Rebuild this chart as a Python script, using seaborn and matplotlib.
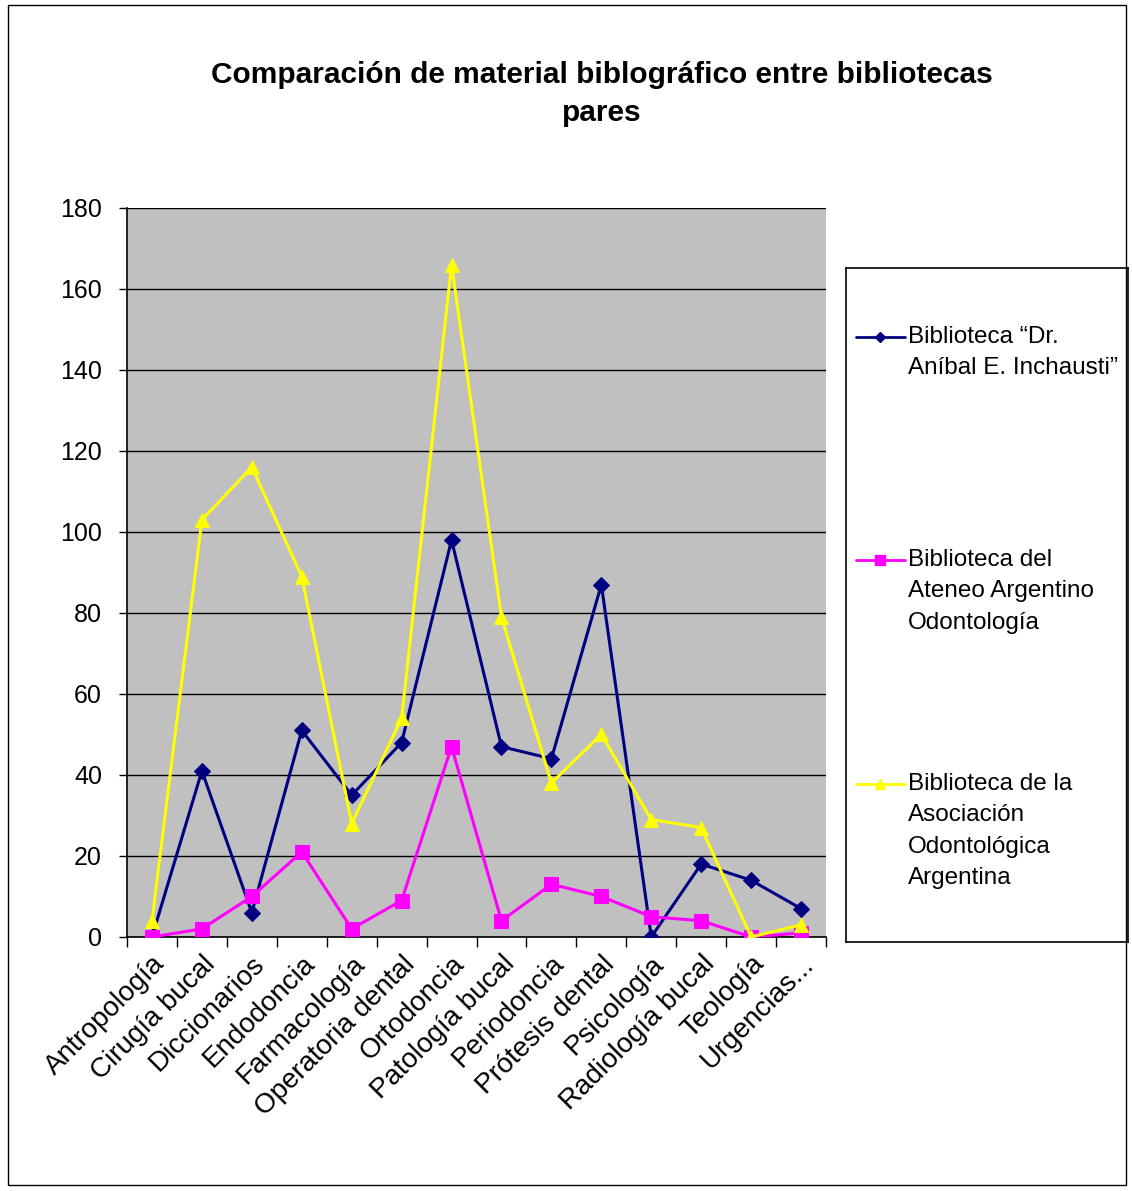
import pandas as pd
import seaborn as sns
import matplotlib.pyplot as plt
from matplotlib.patches import Rectangle
from matplotlib.lines import Line2D

categories = ['Antropología', 'Cirugía bucal', 'Diccionarios', 'Endodoncia',
              'Farmacología', 'Operatoria dental', 'Ortodoncia', 'Patología bucal',
              'Periodoncia', 'Prótesis dental', 'Psicología', 'Radiología bucal',
              'Teología', 'Urgencias...']

inchausti = [0, 41, 6, 51, 35, 48, 98, 47, 44, 87, 0, 18, 14, 7]
ateneo = [0, 2, 10, 21, 2, 9, 47, 4, 13, 10, 5, 4, 0, 1]
asociacion = [4, 103, 116, 89, 28, 54, 166, 79, 38, 50, 29, 27, 0, 3]

series_names = ['Biblioteca \u201cDr.\nAníbal E. Inchausti\u201d',
                'Biblioteca del\nAteneo Argentino\nOdontología',
                'Biblioteca de la\nAsociación\nOdontológica\nArgentina']
colors = ['#000080', '#FF00FF', '#FFFF00']
markers = ['D', 's', '^']
msizes = [8, 10, 10]

rows = []
for name, vals in zip(series_names, [inchausti, ateneo, asociacion]):
    for i, v in enumerate(vals):
        rows.append({'pos': i, 'valor': v, 'serie': name})
df = pd.DataFrame(rows)

sns.set_style('white')
plt.rcParams['font.family'] = ['Liberation Sans', 'DejaVu Sans']
plt.rcParams['text.color'] = 'black'
plt.rcParams['xtick.color'] = 'black'
plt.rcParams['ytick.color'] = 'black'

fig = plt.figure(figsize=(11.32, 11.91), dpi=100)
ax = fig.add_axes([0.1122, 0.2133, 0.6175, 0.6121])
ax.set_facecolor('#C0C0C0')

for name, c, m, ms in zip(series_names, colors, markers, msizes):
    sns.lineplot(data=df[df['serie'] == name], x='pos', y='valor', color=c,
                 marker=m, markersize=ms, markeredgecolor=c, linewidth=2.2,
                 ax=ax, legend=False, zorder=3)

ax.set_xlim(-0.5, len(categories) - 0.5)
ax.set_ylim(0, 180)
ax.set_yticks(range(0, 181, 20))
ax.yaxis.grid(True, color='black', linewidth=1)
ax.set_axisbelow(True)
ax.set_xticks(range(len(categories)))
ax.set_xticklabels(categories, rotation=45, ha='right', rotation_mode='anchor',
                   fontsize=20)
ax.set_xticks([i - 0.5 for i in range(len(categories) + 1)], minor=True)
ax.tick_params(axis='x', which='major', length=0, pad=10)
ax.tick_params(axis='x', which='minor', length=7, width=1, direction='out',
               color='black', bottom=True)
ax.tick_params(axis='y', length=6, width=1, direction='out', color='black',
               left=True, labelsize=18, pad=12)
ax.set_xlabel('')
ax.set_ylabel('')
for s in ['top', 'right']:
    ax.spines[s].set_visible(False)
for s in ['left', 'bottom']:
    ax.spines[s].set_color('black')
    ax.spines[s].set_linewidth(1.2)

fig.text(0.532, 0.921, 'Comparación de material biblográfico entre bibliotecas\npares',
         ha='center', va='center', fontsize=21.5, fontweight='bold',
         linespacing=1.45)

# legend box
lax = fig.add_axes([846 / 1132, 1 - 942 / 1191, 282 / 1132, 674 / 1191])
lax.set_xlim(846, 1128)
lax.set_ylim(942, 268)
lax.set_xticks([])
lax.set_yticks([])
for s in lax.spines.values():
    s.set_color('black')
    s.set_linewidth(1.2)
for name, c, m, ms, y in zip(series_names, colors, markers, msizes, [337, 560, 784]):
    lax.add_line(Line2D([856, 905], [y, y], color=c, linewidth=2))
    lax.plot([880], [y], marker=m, color=c, markersize=ms * 0.7)
    lax.text(908, y - 11, name, va='top', ha='left', fontsize=17.5,
             linespacing=1.55)

fig.patches.append(Rectangle((8 / 1132, 6 / 1191), 1118 / 1132, 1180 / 1191,
                             transform=fig.transFigure, fill=False,
                             edgecolor='black', linewidth=1))

fig.savefig('out.png', dpi=100)
